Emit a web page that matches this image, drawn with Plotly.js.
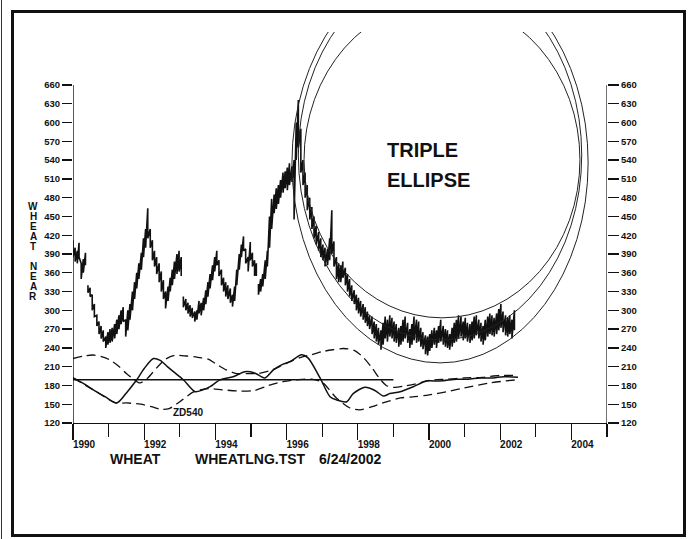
<!DOCTYPE html>
<html><head><meta charset="utf-8">
<script src="https://cdn.plot.ly/plotly-3.0.1.min.js"></script>
<style>html,body{margin:0;padding:0;background:#fff}#chart{width:690px;height:539px}</style>
</head><body><div id="chart"></div>
<script>
// ---- price (wheat near, high/low per sample; null = contract gap) ----
const priceT = [1990.00,1990.06,1990.12,1990.17,1990.23,1990.29,1990.35,null,
1990.42,1990.48,1990.54,1990.60,1990.67,1990.73,1990.79,1990.85,1990.92,1990.98,
1991.04,1991.10,1991.17,1991.23,1991.29,1991.35,1991.41,1991.48,1991.54,1991.60,1991.67,1991.73,1991.79,1991.85,1991.92,1991.98,
1992.04,1992.10,1992.17,1992.23,1992.29,1992.35,1992.42,1992.48,1992.54,1992.60,1992.67,1992.73,1992.79,1992.85,1992.92,1992.98,1993.04,null,
1993.10,1993.17,1993.23,1993.29,1993.35,1993.42,1993.48,1993.54,1993.60,1993.67,1993.73,1993.79,1993.85,1993.92,1993.98,
1994.04,1994.10,1994.17,1994.23,1994.29,1994.35,1994.42,1994.48,1994.54,1994.60,1994.67,1994.73,1994.79,1994.85,1994.92,1994.98,
1995.04,1995.10,1995.15,null,
1995.21,1995.27,1995.33,1995.40,1995.46,1995.52,1995.58,1995.65,1995.71,1995.77,1995.83,1995.90,1995.96,
1996.02,1996.08,1996.15,1996.21,1996.27,1996.33,1996.40,1996.46,1996.52,1996.58,1996.65,1996.71,1996.77,1996.83,1996.90,1996.96,
1997.02,1997.08,1997.15,1997.21,1997.27,1997.33,1997.40,1997.46,1997.52,1997.58,1997.65,1997.71,1997.77,1997.83,1997.90,1997.96,
1998.02,1998.08,1998.15,1998.21,1998.27,1998.33,1998.40,1998.46,1998.52,1998.58,1998.65,1998.71,1998.77,1998.83,1998.90,1998.96,
1999.02,1999.08,1999.15,1999.21,1999.27,1999.33,1999.40,1999.46,1999.52,1999.58,1999.65,1999.71,1999.77,1999.83,1999.90,1999.96,
2000.02,2000.08,2000.15,2000.21,2000.27,2000.33,2000.40,2000.46,2000.52,2000.58,2000.65,2000.71,2000.77,2000.83,2000.90,2000.96,
2001.02,2001.08,2001.15,2001.21,2001.27,2001.33,2001.40,2001.46,2001.52,2001.58,2001.65,2001.71,2001.77,2001.83,2001.90,2001.96,
2002.02,2002.08,2002.15,2002.21,2002.27,2002.33,2002.40];
const priceHi = [412,400,395,408,375,382,392,null,
340,336,325,310,292,282,275,268,258,265,
270,272,278,285,292,300,305,285,300,310,330,345,360,375,392,415,
430,463,430,412,395,385,375,362,348,330,338,352,365,378,390,395,385,null,
322,318,312,308,304,298,300,315,312,320,332,345,358,372,385,
395,380,365,352,345,340,335,325,338,365,390,405,418,398,385,409,
392,380,375,null,
342,350,358,380,395,450,478,485,495,500,508,520,522,
528,535,530,540,600,636,590,540,520,500,480,465,450,435,425,415,
405,400,398,415,460,410,385,375,372,378,368,358,350,340,332,325,
320,315,310,305,298,292,290,282,278,272,268,280,290,285,292,288,
282,278,272,275,285,290,280,270,278,290,285,282,272,265,260,258,
262,268,272,268,275,285,275,270,268,262,272,280,285,292,290,282,
288,280,278,282,290,292,285,280,275,285,290,295,292,288,295,302,
310,298,292,288,292,285,300];
const priceLo = [385,378,375,385,350,360,372,null,
328,322,300,290,275,262,255,250,240,245,
248,250,255,262,270,278,282,258,268,285,300,318,335,350,365,385,
400,415,400,380,370,358,345,330,318,303,315,330,340,350,358,362,355,null,
305,300,295,290,288,282,285,295,292,300,310,322,335,348,362,
372,355,340,330,322,318,312,306,315,340,365,385,395,375,362,380,
370,355,355,null,
325,330,338,350,370,400,430,455,462,470,480,488,495,
492,500,505,445,540,560,520,500,480,460,445,430,415,405,395,385,
380,370,372,380,390,370,350,345,345,352,340,330,322,315,310,300,
295,290,285,280,275,270,262,255,250,245,237,245,255,250,258,255,
250,248,242,245,250,255,248,240,245,252,248,250,242,238,230,228,
235,240,245,240,248,250,245,242,240,237,242,248,250,255,258,252,
255,250,248,252,255,260,255,250,245,252,258,262,260,258,262,268,
272,265,260,258,262,255,268];

// ---- oscillator curves ----
const solidT = [1990.0,1990.3,1990.57,1990.9,1991.23,1991.5,1991.79,1992.0,1992.26,1992.45,1992.65,1992.82,1993.1,1993.43,1993.65,1993.85,1994.13,1994.5,1994.83,1995.1,1995.39,1995.63,1995.9,1996.1,1996.42,1996.6,1996.94,1997.22,1997.4,1997.69,1997.87,1998.2,1998.48,1998.72,1998.9,1999.19,1999.56,1999.93,2000.3,2000.78,2001.1,2001.43,2001.8,2002.09,2002.5];
const solidV = [192,183,173,162,152,168,189,207,223,220,210,202,189,170,173,178,189,194,202,200,192,205,214,218,229,224,192,162,157,154,167,177,172,163,167,170,178,187,187,190,190,192,192,194,193];
const dashAT = [1990.0,1990.3,1990.57,1990.8,1991.04,1991.3,1991.5,1991.7,1991.88,1992.1,1992.35,1992.6,1992.85,1993.2,1993.5,1993.8,1994.0,1994.3,1994.6,1994.9,1995.2,1995.5,1995.8,1996.1,1996.4,1996.7,1997.0,1997.3,1997.6,1997.9,1998.15,1998.4,1998.6,1998.8,1999.0,1999.3,1999.6,2000.0,2000.5,2001.0,2001.5,2002.0,2002.5];
const dashAV = [223,227,228.6,226,220.6,210,199,190,184,192,208,222,228,227,225,222,215,205,199,199,199,203,210,218,225,229,234,237,239,236,225,208,192,180,177,179,182,188,190,192,193,196,196];
const dashBT = [1990.0,1990.6,1991.2,1991.5,1991.9,1992.2,1992.45,1992.7,1993.0,1993.4,1993.8,1994.2,1994.7,1995.1,1995.5,1995.9,1996.3,1996.7,1997.0,1997.4,1997.78,1998.06,1998.4,1998.7,1999.2,1999.6,2000.0,2000.5,2001.0,2001.7,2002.46];
const dashBV = [192,172,152,152,150,146,142,143,154,170,175,173,171,172,180,186,189,190,185,160,144,141,146,152,160,162,165,170,176,184,189];
const levelT = [1990.0,1999.0];
const levelV = [189,189];

// ---- triple ellipse (bounding boxes in data units) ----
const ellT0 = [1996.49,1996.33,1996.15];
const ellT1 = [2004.24,2004.29,2004.47];
const ellV0 = [288,252.6,216];
const ellV1 = [793,843.7,855];

// ---- axes ----
const yTicks = [120,150,180,210,240,270,300,330,360,390,420,450,480,510,540,570,600,630,660];
const xMajor = [1990,1992,1994,1996,1998,2000,2002,2004];
const xMinor = [1991,1993,1995,1997,1999,2001,2003,2005];
const yTitleLetters = ['W','H','E','A','T','','N','E','A','R'];

// ---- geometry helpers (pixels -> paper) ----
const L=73,R=607,T=32,B=423;
const px=p=>(p-L)/(R-L), py=p=>(B-p)/(B-T);

// build zig-zag bar path from high/low arrays
const zx=[], zy=[];
for(let i=0;i<priceT.length;i++){
  if(priceT[i]===null){zx.push(null);zy.push(null);continue;}
  zx.push(priceT[i],priceT[i]); zy.push(priceHi[i],priceLo[i]);
}

const FONT='"Liberation Sans", Arial, sans-serif';
const DASH='9px,5px';
const traces=[
 {x:zx,y:zy,mode:'lines',line:{color:'#111',width:1.6},connectgaps:false,hoverinfo:'skip'},
 {x:levelT,y:levelV,mode:'lines',line:{color:'#111',width:1.4}},
 {x:solidT,y:solidV,mode:'lines',line:{color:'#111',width:1.5,shape:'spline',smoothing:0.8}},
 {x:dashAT,y:dashAV,mode:'lines',line:{color:'#111',width:1.3,dash:DASH,shape:'spline',smoothing:0.8}},
 {x:dashBT,y:dashBV,mode:'lines',line:{color:'#111',width:1.3,dash:DASH,shape:'spline',smoothing:0.8}},
 {x:[2005],y:[400],yaxis:'y2',mode:'markers',marker:{opacity:0},hoverinfo:'skip'}
];

const shapes=[];
for(let i=0;i<ellT0.length;i++){
  shapes.push({type:'circle',xref:'x',yref:'y',x0:ellT0[i],x1:ellT1[i],y0:ellV0[i],y1:ellV1[i],line:{color:'#222',width:1}});
}
// axis lines
shapes.push({type:'line',xref:'x',yref:'y',x0:1990,x1:1990,y0:120,y1:660,line:{color:'#111',width:1.4}});
shapes.push({type:'line',xref:'x',yref:'y',x0:2005,x1:2005,y0:120,y1:660,line:{color:'#111',width:1.2}});
// frame
shapes.push({type:'rect',xref:'paper',yref:'paper',x0:px(12.5),x1:px(684.5),y0:py(535.5),y1:py(11.5),line:{color:'#111',width:3}});
shapes.push({type:'line',xref:'paper',yref:'paper',x0:px(1.5),x1:px(1.5),y0:py(0),y1:py(539),line:{color:'#333',width:1}});

const ann=[];
yTitleLetters.forEach((c,i)=>{ if(c) ann.push({xref:'paper',yref:'paper',x:px(33),y:py(206+i*10),text:c,showarrow:false,xanchor:'center',yanchor:'middle',font:{family:FONT,size:10,color:'#111',weight:'bold'}}); });
ann.push({xref:'paper',yref:'paper',x:px(385),y:py(150),text:'TRIPLE',showarrow:false,xanchor:'left',yanchor:'middle',font:{family:FONT,size:20,color:'#111',weight:'bold'}});
ann.push({xref:'paper',yref:'paper',x:px(385),y:py(180),text:'ELLIPSE',showarrow:false,xanchor:'left',yanchor:'middle',font:{family:FONT,size:20,color:'#111',weight:'bold'}});
ann.push({xref:'paper',yref:'paper',x:px(171),y:py(412),text:'ZD540',showarrow:false,xanchor:'left',yanchor:'middle',font:{family:FONT,size:10,color:'#111',weight:'bold'}});
[['WHEAT',108],['WHEATLNG.TST',193],['6/24/2002',317]].forEach(([t,x])=>ann.push({xref:'paper',yref:'paper',x:px(x),y:py(459),text:t,showarrow:false,xanchor:'left',yanchor:'middle',font:{family:FONT,size:14,color:'#111',weight:'bold'}}));

const yRange=[120,120+(B-T)/0.626];
const layout={
 width:690,height:539,margin:{l:L,r:690-R,t:T,b:539-B},
 paper_bgcolor:'#fff',plot_bgcolor:'#fff',showlegend:false,
 xaxis:{range:[1990,2005],tickvals:xMajor,ticks:'outside',ticklen:16,tickwidth:1.2,tickcolor:'#111',
   minor:{tickvals:xMinor,ticks:'outside',ticklen:13,tickwidth:1.2,tickcolor:'#111',showgrid:false},
   showgrid:false,zeroline:false,showline:true,linecolor:'#111',linewidth:1.4,ticklabelshift:11,ticklabelstandoff:-4,
   tickfont:{family:FONT,size:10,color:'#111',weight:'bold'}},
 yaxis:{range:yRange,tickvals:yTicks,ticks:'outside',ticklen:10,tickwidth:1.4,tickcolor:'#111',showgrid:false,zeroline:false,showline:false,
   tickfont:{family:FONT,size:9.5,color:'#111',weight:'bold'}},
 yaxis2:{range:yRange,overlaying:'y',side:'right',tickvals:yTicks,ticks:'outside',ticklen:11,tickwidth:1.4,tickcolor:'#111',showgrid:false,zeroline:false,showline:false,
   tickfont:{family:FONT,size:9.5,color:'#111',weight:'bold'}},
 shapes:shapes,annotations:ann
};
Plotly.newPlot('chart',traces,layout,{staticPlot:true});
</script></body></html>
